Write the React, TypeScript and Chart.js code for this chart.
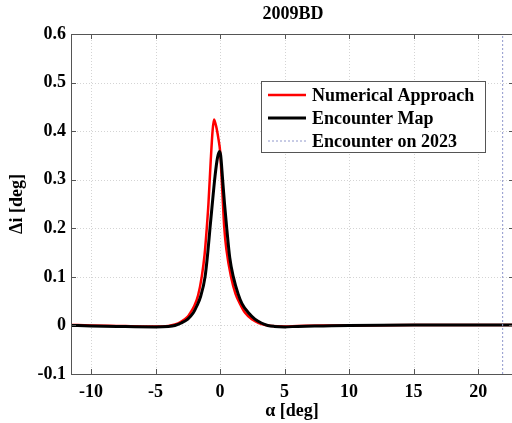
import React, { useEffect, useRef } from 'react';
import { Chart, registerables } from 'chart.js';

Chart.register(...registerables);

// ---- Data ----
const alphaNum = [-11.55, -10, -8, -6, -4.5, -3.5, -3, -2.5, -2.3, -2, -1.7, -1.42, -1.2, -1.03, -0.9, -0.72, -0.57, -0.47, -0.35, -0.26, -0.1, 0, 0.15, 0.33, 0.5, 0.85, 1.2, 1.5, 1.94, 2.5, 3, 3.5, 4, 5, 6, 8, 10, 15, 20, 22.8];
const diNum = [0.001, 0.0, -0.001, -0.002, -0.002, 0.002, 0.008, 0.018, 0.026, 0.04, 0.062, 0.1, 0.145, 0.2, 0.25, 0.34, 0.403, 0.424, 0.415, 0.405, 0.38, 0.36, 0.29, 0.2, 0.155, 0.1, 0.065, 0.047, 0.026, 0.012, 0.005, 0.001, -0.001, -0.002, -0.001, 0.0, 0.0, 0.001, 0.001, 0.001];

const alphaMap = [-11.55, -10, -8, -5, -4, -3.5, -3, -2.5, -2.07, -1.8, -1.5, -1.16, -0.95, -0.78, -0.64, -0.39, -0.2, -0.05, 0.05, 0.2, 0.35, 0.52, 0.75, 1.03, 1.4, 1.7, 2.2, 2.7, 3.2, 3.7, 4.2, 5, 6, 8, 10, 15, 20, 22.8];
const diMap = [0.0, -0.001, -0.002, -0.003, -0.002, 0.0, 0.005, 0.013, 0.026, 0.04, 0.06, 0.1, 0.15, 0.2, 0.239, 0.307, 0.345, 0.358, 0.35, 0.3, 0.25, 0.2, 0.14, 0.1, 0.065, 0.045, 0.026, 0.013, 0.005, 0.0, -0.002, -0.003, -0.002, -0.001, 0.0, 0.001, 0.001, 0.001];

const encounterAlpha = 21.9;
const yMin = -0.1;
const yMax = 0.6;
const xMin = -11.55;
const xMax = 22.78;

const titleText = '2009BD';
const xTitle = 'α [deg]';
const yTitle = 'Δi [deg]';
const seriesLabels = ['Numerical Approach', 'Encounter Map', 'Encounter on 2023'];

const FONT = '"Liberation Serif", "Times New Roman", serif';

const gridPlugin = {
  id: 'dottedGrid',
  beforeDatasetsDraw(chart: any) {
    const { ctx, chartArea: a, scales } = chart;
    ctx.save();
    ctx.strokeStyle = '#d4d4d4';
    ctx.lineWidth = 1;
    ctx.setLineDash([1, 2]);
    ctx.beginPath();
    scales.x.ticks.forEach((t: any) => {
      const px = Math.round(scales.x.getPixelForValue(t.value)) + 0.5;
      ctx.moveTo(px, a.top);
      ctx.lineTo(px, a.bottom);
    });
    scales.y.ticks.forEach((t: any) => {
      const py = Math.round(scales.y.getPixelForValue(t.value)) + 0.5;
      ctx.moveTo(a.left, py);
      ctx.lineTo(a.right, py);
    });
    ctx.stroke();
    ctx.restore();
  },
};

const decorPlugin = {
  id: 'decor',
  afterDatasetsDraw(chart: any) {
    const { ctx, chartArea: a, scales } = chart;
    const xs = scales.x;
    const ys = scales.y;
    ctx.save();
    // frame
    ctx.strokeStyle = '#555555';
    ctx.lineWidth = 1;
    ctx.beginPath();
    ctx.moveTo(a.left + 0.5, a.top + 0.5);
    ctx.lineTo(a.left + 0.5, a.bottom + 0.5);
    ctx.lineTo(a.right, a.bottom + 0.5);
    ctx.moveTo(a.left + 0.5, a.top + 0.5);
    ctx.lineTo(a.right, a.top + 0.5);
    ctx.stroke();
    // inward ticks
    ctx.beginPath();
    const tl = 5;
    xs.ticks.forEach((t: any) => {
      const px = Math.round(xs.getPixelForValue(t.value)) + 0.5;
      ctx.moveTo(px, a.bottom);
      ctx.lineTo(px, a.bottom - tl);
      ctx.moveTo(px, a.top);
      ctx.lineTo(px, a.top + tl);
    });
    ys.ticks.forEach((t: any) => {
      const py = Math.round(ys.getPixelForValue(t.value)) + 0.5;
      ctx.moveTo(a.left, py);
      ctx.lineTo(a.left + tl, py);
      ctx.moveTo(a.right, py);
      ctx.lineTo(a.right - tl, py);
    });
    ctx.stroke();

    // legend box
    const ds = chart.data.datasets;
    const bx = 261, by = 81, bw = 224, bh = 71;
    ctx.fillStyle = '#ffffff';
    ctx.fillRect(bx, by, bw, bh);
    ctx.strokeStyle = '#555555';
    ctx.strokeRect(bx + 0.5, by + 0.5, bw, bh);
    ctx.font = `bold 18px ${FONT}`;
    ctx.textBaseline = 'middle';
    ctx.textAlign = 'left';
    [0, 1, 2].forEach((i, r) => {
      const d = ds[i];
      const yy = by + 14 + r * 23;
      ctx.beginPath();
      ctx.strokeStyle = d.borderColor;
      ctx.lineWidth = d.borderWidth;
      ctx.setLineDash(d.borderDash || []);
      ctx.moveTo(bx + 7, yy);
      ctx.lineTo(bx + 45, yy);
      ctx.stroke();
      ctx.setLineDash([]);
      ctx.fillStyle = '#000000';
      ctx.fillText(d.label, bx + 51, yy + 1);
    });

    // titles
    ctx.fillStyle = '#000000';
    ctx.textAlign = 'center';
    ctx.font = `bold 18px ${FONT}`;
    ctx.fillText(titleText, 293, 14);
    ctx.fillText(xTitle, 292, 411);
    ctx.save();
    ctx.translate(17, (a.top + a.bottom) / 2);
    ctx.rotate(-Math.PI / 2);
    ctx.fillText(yTitle, 0, 0);
    ctx.restore();
    ctx.restore();
  },
};

export default function App() {
  const ref = useRef<HTMLCanvasElement>(null);
  useEffect(() => {
    document.body.style.margin = '0';
    document.body.style.overflow = 'hidden';
    const canvas = ref.current!;
    const chart = new Chart(canvas, {
      type: 'scatter',
      data: {
        datasets: [
          {
            label: seriesLabels[0],
            data: alphaNum.map((x, i) => ({ x, y: diNum[i] })),
            showLine: true,
            borderColor: '#ff0000',
            backgroundColor: '#ff0000',
            borderWidth: 2.5,
            pointRadius: 0,
            cubicInterpolationMode: 'monotone',
            order: 2,
          },
          {
            label: seriesLabels[1],
            data: alphaMap.map((x, i) => ({ x, y: diMap[i] })),
            showLine: true,
            borderColor: '#000000',
            backgroundColor: '#000000',
            borderWidth: 3,
            pointRadius: 0,
            cubicInterpolationMode: 'monotone',
            order: 1,
          },
          {
            label: seriesLabels[2],
            data: [{ x: encounterAlpha, y: yMin }, { x: encounterAlpha, y: yMax }],
            showLine: true,
            borderColor: '#9098cc',
            backgroundColor: '#9098cc',
            borderWidth: 1,
            borderDash: [2, 2],
            pointRadius: 0,
            order: 0,
          },
        ],
      },
      options: {
        animation: false,
        responsive: false,
        maintainAspectRatio: false,
        layout: { padding: { top: 34, right: 0, left: 0, bottom: 0 } },
        plugins: {
          legend: { display: false },
          title: { display: false },
          tooltip: { enabled: false },
        },
        scales: {
          x: {
            type: 'linear',
            min: xMin,
            max: xMax,
            afterFit: (s: any) => { s.height = 49; },
            ticks: {
              stepSize: 5,
              includeBounds: false,
              padding: 8,
              color: '#000000',
              font: { family: FONT, size: 18, weight: 'bold' },
              maxRotation: 0,
            },
            grid: { display: false, drawTicks: false },
            border: { display: false },
          },
          y: {
            type: 'linear',
            min: yMin,
            max: yMax,
            afterFit: (s: any) => { s.width = 71; },
            ticks: {
              stepSize: 0.1,
              padding: 5,
              color: '#000000',
              font: { family: FONT, size: 18, weight: 'bold' },
              callback: (v: any) => {
                const n = Math.round(Number(v) * 10) / 10;
                return n === 0 ? '0' : n.toFixed(1);
              },
            },
            grid: { display: false, drawTicks: false },
            border: { display: false },
          },
        },
      },
      plugins: [gridPlugin, decorPlugin],
    });
    return () => chart.destroy();
  }, []);
  return (
    <div style={{ width: 512, height: 423, overflow: 'hidden' }}>
      <canvas ref={ref} width={514} height={423} style={{ display: 'block' }} />
    </div>
  );
}
